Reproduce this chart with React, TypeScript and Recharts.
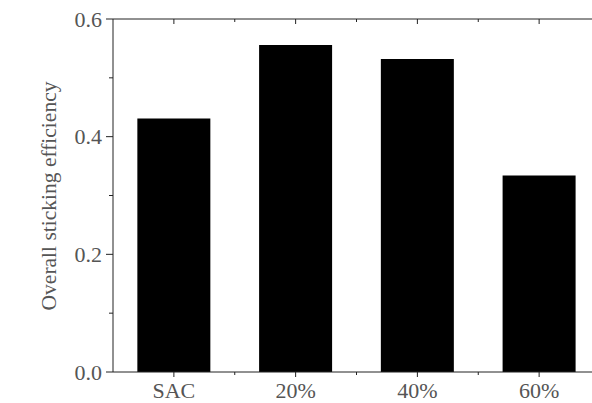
import { BarChart, Bar, XAxis, YAxis } from 'recharts';

const categories = ['SAC', '20%', '40%', '60%'];
const efficiency = [0.431, 0.556, 0.532, 0.334];
const yTicks = [0, 0.1, 0.2, 0.3, 0.4, 0.5, 0.6];

const data = categories.map((name, i) => ({ name, value: efficiency[i] }));

const W = 600;
const H = 403;
const LEFT = 113;
const BAND = (W - LEFT) / categories.length;
const FONT = '"Liberation Serif", "Times New Roman", serif';
const TEXT = '#555';
const AXIS = '#222';

const isMajor = (v: number) => Math.round(v * 10) % 2 === 0;

function YTick(props: any) {
  const { x, y, payload } = props;
  const major = isMajor(payload.value);
  return (
    <g>
      <line x1={x - (major ? 7 : 4)} x2={x} y1={y} y2={y} stroke={AXIS} strokeWidth={1} />
      {major && (
        <text x={x - 11} y={y + 7.5} textAnchor="end" fontSize={22} fontFamily={FONT} fill={TEXT}>
          {payload.value.toFixed(1)}
        </text>
      )}
    </g>
  );
}

function BottomTick(props: any) {
  const { x, y, payload } = props;
  return (
    <g>
      <line x1={x} x2={x} y1={y} y2={y + 5} stroke={AXIS} strokeWidth={1} />
      <line x1={x + BAND / 2} x2={x + BAND / 2} y1={y} y2={y + 3} stroke={AXIS} strokeWidth={1} />
      <text x={x} y={y + 26} textAnchor="middle" fontSize={22} fontFamily={FONT} fill={TEXT}>
        {payload.value}
      </text>
    </g>
  );
}

function TopTick(props: any) {
  const { x, y } = props;
  return (
    <g>
      <line x1={x} x2={x} y1={y} y2={y + 5} stroke={AXIS} strokeWidth={1} />
      <line x1={x + BAND / 2} x2={x + BAND / 2} y1={y} y2={y + 3} stroke={AXIS} strokeWidth={1} />
    </g>
  );
}

export default function App() {
  return (
    <div style={{ position: 'fixed', left: 0, top: 0, width: 592, height: 403, overflow: 'hidden', background: '#fff' }}>
      <BarChart width={W} height={H} data={data} margin={{ top: 0, right: 0, bottom: 0, left: 0 }} barCategoryGap="20%">
        <XAxis
          dataKey="name"
          height={31}
          tickSize={0}
          tickMargin={0}
          tickLine={false}
          axisLine={{ stroke: AXIS }}
          tick={BottomTick}
          interval={0}
        />
        <XAxis
          xAxisId="top"
          orientation="top"
          dataKey="name"
          height={19}
          tickSize={0}
          tickMargin={0}
          tickLine={false}
          axisLine={{ stroke: AXIS }}
          tick={TopTick}
          interval={0}
        />
        <YAxis
          width={LEFT}
          domain={[0, 0.6]}
          ticks={yTicks}
          interval={0}
          tickSize={0}
          tickMargin={0}
          tickLine={false}
          axisLine={{ stroke: AXIS }}
          tick={YTick}
          label={{
            content: () => (
              <text
                x={56}
                y={196}
                transform="rotate(-90 56 196)"
                textAnchor="middle"
                fontSize={21.5}
                fontFamily={FONT}
                fill={TEXT}
              >
                Overall sticking efficiency
              </text>
            ),
          }}
        />
        <Bar dataKey="value" fill="#000" isAnimationActive={false} />
      </BarChart>
    </div>
  );
}
